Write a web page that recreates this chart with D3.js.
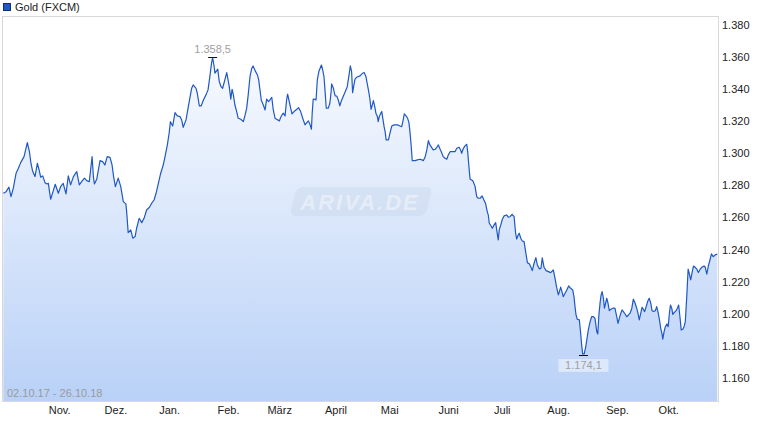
<!DOCTYPE html>
<html><head><meta charset="utf-8">
<script src="https://cdn.jsdelivr.net/npm/d3@7"></script>
<style>
body{margin:0;background:#fff}
svg{display:block}
text{font-family:"Liberation Sans",Arial,sans-serif}
</style>
</head><body>
<svg id="chart" width="760" height="435"></svg>
<script>
const seriesName = "Gold (FXCM)";
const dateRangeLabel = "02.10.17 - 26.10.18";
const startDate = "2017-10-02";
const endDate = "2018-10-26";
const monthLabels = ["Nov.","Dez.","Jan.","Feb.","März","April","Mai","Juni","Juli","Aug.","Sep.","Okt."];
const monthStarts = ["2017-11-01","2017-12-01","2018-01-01","2018-02-01","2018-03-01","2018-04-01","2018-05-01","2018-06-01","2018-07-01","2018-08-01","2018-09-01","2018-10-01"];
const yTicks = [1160,1180,1200,1220,1240,1260,1280,1300,1320,1340,1360,1380];
const yDomain = [1144.8, 1384.0];

// trading-day index (weekdays since start) and closing price
const tradingDay = [0,1.1,2.2,3.0,3.9,5.0,5.9,6.8,8.1,9.4,10.2,10.8,11.5,12.4,13.3,14.0,14.6,15.4,16.3,17.0,17.6,18.5,19.3,20.3,21.5,22.4,23.4,24.5,25.4,26.3,27.4,28.7,29.7,30.6,31.7,32.6,33.6,34.7,35.2,35.6,36.5,37.8,38.8,39.7,40.6,41.7,42.5,43.1,43.8,44.9,45.9,46.9,47.9,48.2,48.8,49.8,50.6,51.5,52.1,53.1,54.1,55.0,56.0,57.1,58.0,58.9,59.7,60.6,61.5,62.5,63.2,64.1,64.8,65.3,66.2,67.1,68.0,69.1,69.7,70.3,71.4,72.3,73.0,73.6,74.2,75.3,75.8,76.6,77.3,78.2,79.2,80.0,80.8,81.4,81.8,82.3,82.7,83.4,83.8,84.4,85.1,85.7,86.4,87.3,87.7,88.3,88.9,89.4,89.9,90.5,91.2,91.8,92.8,93.8,94.5,95.1,95.7,96.4,97.1,97.6,98.4,99.3,99.8,100.3,100.8,101.6,102.3,102.9,103.6,104.2,104.9,105.5,106.2,106.8,107.9,108.4,108.9,109.4,110.1,110.7,111.1,111.6,112.3,112.8,113.6,114.7,115.4,116.2,117.0,117.9,118.6,119.2,119.9,120.4,120.7,121.1,121.7,122.2,122.7,123.3,123.8,124.3,124.8,125.3,125.7,126.2,127.0,127.6,128.1,128.3,129.0,129.4,129.7,130.3,130.9,131.5,132.0,132.9,133.6,134.4,135.1,135.6,136.1,136.5,136.9,137.4,138.1,139.4,140.4,141.0,141.7,142.3,142.8,143.3,143.7,144.2,144.6,145.1,145.6,146.2,146.5,146.9,147.5,147.9,148.3,148.8,149.2,149.6,150.5,151.1,151.8,152.7,154.0,155.0,155.7,156.3,156.7,157.4,158.0,158.5,158.9,159.3,159.8,160.9,161.8,162.8,163.6,164.1,164.8,165.5,166.1,166.7,167.4,168.0,168.8,169.6,170.0,170.7,171.3,171.9,172.6,173.3,173.9,174.6,175.6,176.5,177.2,178.1,178.7,179.1,179.8,180.4,181.1,181.5,182.0,182.4,183.4,184.3,185.0,185.6,186.3,187.1,187.8,188.5,189.1,189.5,189.9,190.6,191.1,191.8,192.4,192.9,193.4,193.8,194.4,195.0,195.7,196.7,197.3,198.0,198.8,199.6,200.2,200.6,201.2,201.6,202.2,202.8,203.5,204.1,204.8,205.6,206.1,206.7,207.4,208.1,208.7,209.5,210.1,210.6,211.3,212.1,213.0,213.9,214.9,215.2,215.7,216.2,216.9,217.3,217.8,218.3,218.8,219.5,220.2,220.9,221.7,222.5,223.0,223.4,223.8,224.3,225.1,225.6,226.0,226.4,227.0,227.6,228.0,228.6,229.3,229.9,230.6,231.2,231.9,232.3,232.7,233.2,233.6,234.0,234.5,234.9,235.4,235.8,236.3,236.8,237.4,238.2,239.0,239.7,240.2,240.7,241.3,241.8,242.3,243.0,243.6,244.3,244.9,245.6,246.2,246.9,247.5,248.0,248.5,249.1,249.6,250.1,250.6,251.4,251.9,252.4,253.0,253.5,254.0,254.8,255.3,255.8,256.4,256.9,257.4,257.7,258.2,258.7,259.3,259.8,260.3,260.7,261.2,261.6,262.1,262.9,263.4,263.9,264.4,264.9,265.5,266.0,266.5,267.1,267.6,268.1,268.6,269.1,269.7,270.3,271.0,271.6,272.3,273.0,273.8,274.3,274.9,275.5,276.2,276.7,277.4,278.2,279.0];
const price = [1274.2,1275.2,1278.0,1272.1,1277.3,1286.7,1289.8,1293.3,1297.0,1305.7,1300.1,1292.9,1287.7,1284.6,1292.9,1288.7,1284.2,1285.0,1280.8,1280.0,1280.4,1270.5,1274.6,1279.8,1274.2,1278.3,1280.4,1273.8,1285.0,1279.4,1284.6,1287.7,1279.4,1281.4,1283.6,1282.1,1281.4,1297.0,1284.6,1280.0,1282.9,1294.5,1293.9,1291.8,1297.0,1296.6,1291.8,1284.6,1278.3,1283.6,1278.3,1269.0,1267.6,1262.8,1249.7,1251.4,1246.2,1247.2,1252.4,1258.6,1255.9,1258.6,1263.8,1265.5,1268.0,1270.0,1274.2,1280.4,1286.7,1291.8,1297.0,1304.3,1311.6,1318.8,1316.1,1324.4,1322.4,1321.9,1319.9,1315.3,1319.9,1328.2,1334.4,1339.6,1341.7,1339.6,1336.5,1328.6,1328.6,1332.3,1335.5,1338.6,1347.9,1355.6,1358.5,1354.1,1349.0,1350.6,1351.5,1343.7,1340.6,1339.6,1343.7,1349.4,1345.9,1340.6,1332.8,1339.0,1335.5,1329.2,1325.1,1320.9,1320.3,1318.8,1323.0,1327.2,1335.5,1346.9,1352.1,1353.5,1350.6,1347.9,1344.8,1338.6,1332.3,1329.2,1326.1,1332.8,1331.3,1332.3,1334.0,1326.1,1320.9,1320.3,1319.3,1321.6,1323.0,1324.1,1322.4,1332.3,1335.9,1332.3,1327.2,1323.6,1325.1,1326.5,1327.5,1325.1,1320.9,1316.8,1318.2,1319.3,1316.8,1314.1,1324.1,1332.8,1332.8,1332.3,1344.8,1350.0,1352.1,1354.1,1351.0,1346.9,1338.6,1327.2,1327.2,1330.3,1337.5,1342.3,1339.6,1336.5,1334.8,1334.8,1332.3,1328.6,1331.3,1334.8,1337.5,1340.6,1347.9,1353.5,1350.0,1336.9,1340.6,1345.2,1346.5,1347.3,1349.0,1349.4,1346.9,1341.7,1337.5,1332.3,1326.5,1329.2,1331.9,1328.6,1324.1,1321.9,1318.8,1321.9,1324.1,1325.1,1320.9,1315.7,1312.6,1307.4,1307.4,1311.6,1316.1,1316.8,1316.8,1316.1,1315.7,1320.3,1323.6,1322.4,1320.9,1318.2,1312.6,1305.4,1294.5,1294.5,1295.0,1295.4,1295.0,1294.5,1296.6,1301.2,1307.0,1304.3,1302.6,1301.2,1301.6,1303.3,1304.3,1301.6,1299.5,1297.0,1296.0,1295.4,1298.1,1300.1,1300.1,1300.1,1302.2,1302.9,1301.2,1299.1,1302.2,1303.7,1304.7,1299.5,1289.8,1282.9,1282.1,1278.8,1272.1,1271.1,1271.1,1272.5,1270.0,1267.6,1262.8,1260.7,1255.5,1253.8,1252.4,1254.5,1255.9,1250.3,1245.1,1251.4,1254.5,1258.0,1260.1,1260.7,1259.3,1259.6,1261.1,1259.6,1249.3,1245.7,1248.2,1249.3,1246.2,1244.5,1244.1,1237.8,1231.0,1230.2,1228.5,1226.0,1230.6,1234.1,1229.5,1227.1,1227.5,1233.9,1228.1,1226.0,1225.4,1224.8,1226.4,1224.4,1220.2,1215.7,1210.9,1212.9,1215.7,1212.9,1209.8,1211.9,1214.0,1216.5,1215.0,1214.0,1209.8,1203.6,1198.4,1195.7,1195.3,1187.0,1179.7,1174.1,1174.1,1178.7,1182.8,1189.1,1194.2,1197.3,1197.3,1196.3,1188.0,1186.6,1197.8,1206.1,1210.9,1212.9,1208.8,1202.6,1206.1,1208.8,1205.7,1201.1,1201.9,1202.6,1202.6,1197.3,1193.2,1196.3,1199.5,1201.5,1200.5,1199.0,1197.3,1198.4,1199.5,1202.6,1208.2,1205.7,1202.6,1199.5,1195.3,1199.5,1203.2,1201.9,1200.5,1204.6,1207.3,1208.8,1205.7,1201.1,1200.5,1201.1,1203.6,1200.5,1195.3,1190.1,1186.6,1183.3,1188.0,1191.1,1192.8,1191.1,1199.8,1204.6,1202.6,1198.8,1199.8,1201.1,1202.6,1204.6,1197.3,1189.1,1189.5,1191.1,1194.2,1210.9,1226.9,1223.9,1220.2,1224.4,1228.9,1228.1,1226.9,1224.8,1226.9,1228.1,1228.9,1228.1,1223.9,1228.9,1233.1,1236.4,1234.7,1235.8,1236.4];

const W = 760, H = 435;
const plot = {left: 3, right: 718, top: 17, bottom: 401};
const svg = d3.select("#chart");
const de = d3.formatLocale({decimal: ",", thousands: ".", grouping: [3], currency: ["", "€"]});
const fmtTick = de.format(",.0f");
const fmtVal = de.format(",.1f");

const parse = d3.utcParse("%Y-%m-%d");
const weekdays = d3.utcDay.range(parse(startDate), d3.utcDay.offset(parse(endDate), 1))
  .filter(d => d.getUTCDay() !== 0 && d.getUTCDay() !== 6);

const x = d3.scaleLinear().domain([0, weekdays.length - 1]).range([plot.left + 0.3, plot.right - 0.7]);
const y = d3.scaleLinear().domain(yDomain).range([plot.bottom, plot.top]);

const data = tradingDay.map((t, i) => ({t, v: price[i]}));

// gradient
const defs = svg.append("defs");
const grad = defs.append("linearGradient").attr("id", "fillGrad")
  .attr("gradientUnits", "userSpaceOnUse")
  .attr("x1", 0).attr("x2", 0).attr("y1", plot.top).attr("y2", plot.bottom);
grad.append("stop").attr("offset", 0).attr("stop-color", "#ffffff");
grad.append("stop").attr("offset", 1).attr("stop-color", "#b9d1f7");
defs.append("clipPath").attr("id", "clip").append("rect")
  .attr("x", plot.left).attr("y", plot.top)
  .attr("width", plot.right - plot.left).attr("height", plot.bottom - plot.top);

const g = svg.append("g").attr("clip-path", "url(#clip)");

g.append("path").datum(data)
  .attr("fill", "url(#fillGrad)")
  .attr("d", d3.area().x(d => x(d.t)).y0(plot.bottom).y1(d => y(d.v)));

// watermark
const wm = svg.append("g").attr("transform", "translate(361,202)");
wm.append("rect")
  .attr("x", -68).attr("y", -15).attr("width", 136).attr("height", 29).attr("rx", 6)
  .attr("transform", "skewX(-14)")
  .attr("fill", "#9fb2d0").attr("fill-opacity", 0.15);
wm.append("text")
  .attr("x", -1).attr("y", 8).attr("text-anchor", "middle")
  .attr("font-size", 22).attr("font-weight", "bold").attr("font-style", "italic")
  .attr("letter-spacing", 2)
  .attr("fill", "#ffffff").attr("fill-opacity", 0.42)
  .text("ARIVA.DE");

g.append("path").datum(data)
  .attr("fill", "none").attr("stroke", "#1f58c6").attr("stroke-width", 1.2)
  .attr("stroke-linejoin", "round")
  .attr("d", d3.line().x(d => x(d.t)).y(d => y(d.v)));

// frame
svg.append("rect")
  .attr("x", plot.left - 0.5).attr("y", plot.top - 0.5)
  .attr("width", plot.right - plot.left + 1).attr("height", plot.bottom - plot.top + 1)
  .attr("fill", "none").attr("stroke", "#d8d8d8");

// y axis labels
svg.append("g").attr("transform", "translate(0,1.5)")
  .selectAll("text").data(yTicks).join("text")
  .attr("x", 722).attr("y", d => y(d)).attr("dy", "0.35em")
  .attr("font-size", 11).attr("fill", "#222")
  .text(d => fmtTick(d));

// x axis labels
const monthIdx = monthStarts.map(s => {
  const d = parse(s);
  return weekdays.findIndex(w => w >= d);
});
svg.append("g").selectAll("text").data(monthLabels).join("text")
  .attr("x", (d, i) => x(monthIdx[i]))
  .attr("y", 414).attr("text-anchor", "middle")
  .attr("font-size", 11).attr("fill", "#222")
  .text(d => d);

// date range
svg.append("text").attr("x", 7).attr("y", 397)
  .attr("font-size", 11).attr("fill", "#9a9a9a").text(dateRangeLabel);

// legend
svg.append("rect").attr("x", 3.5).attr("y", 3.5).attr("width", 7).attr("height", 7)
  .attr("fill", "#1f58c6").attr("stroke", "#10306e");
svg.append("text").attr("x", 15).attr("y", 11)
  .attr("font-size", 11).attr("fill", "#222").text(seriesName);

// max / min annotations
const maxD = data.reduce((a, b) => b.v > a.v ? b : a);
const minPts = data.filter(d => d.v === d3.min(data, e => e.v));
const minT = d3.mean(minPts, d => d.t);
const minV = minPts[0].v;

svg.append("line")
  .attr("x1", x(maxD.t) - 4.5).attr("x2", x(maxD.t) + 4.5)
  .attr("y1", Math.round(y(maxD.v)) - 0.5).attr("y2", Math.round(y(maxD.v)) - 0.5)
  .attr("stroke", "#111").attr("stroke-width", 1);
svg.append("text").attr("x", x(maxD.t)).attr("y", y(maxD.v) - 5)
  .attr("text-anchor", "middle").attr("font-size", 11).attr("fill", "#a0a0a0")
  .text(fmtVal(maxD.v));

svg.append("line")
  .attr("x1", x(minT) - 4.5).attr("x2", x(minT) + 4.5)
  .attr("y1", Math.round(y(minV)) + 1.5).attr("y2", Math.round(y(minV)) + 1.5)
  .attr("stroke", "#111").attr("stroke-width", 1);
svg.append("rect")
  .attr("x", x(minT) - 25).attr("y", y(minV) + 5).attr("width", 50).attr("height", 13)
  .attr("fill", "#ffffff").attr("fill-opacity", 0.45);
svg.append("text").attr("x", x(minT)).attr("y", y(minV) + 15.5)
  .attr("text-anchor", "middle").attr("font-size", 11).attr("fill", "#a0a0a0")
  .text(fmtVal(minV));
</script>
</body></html>
